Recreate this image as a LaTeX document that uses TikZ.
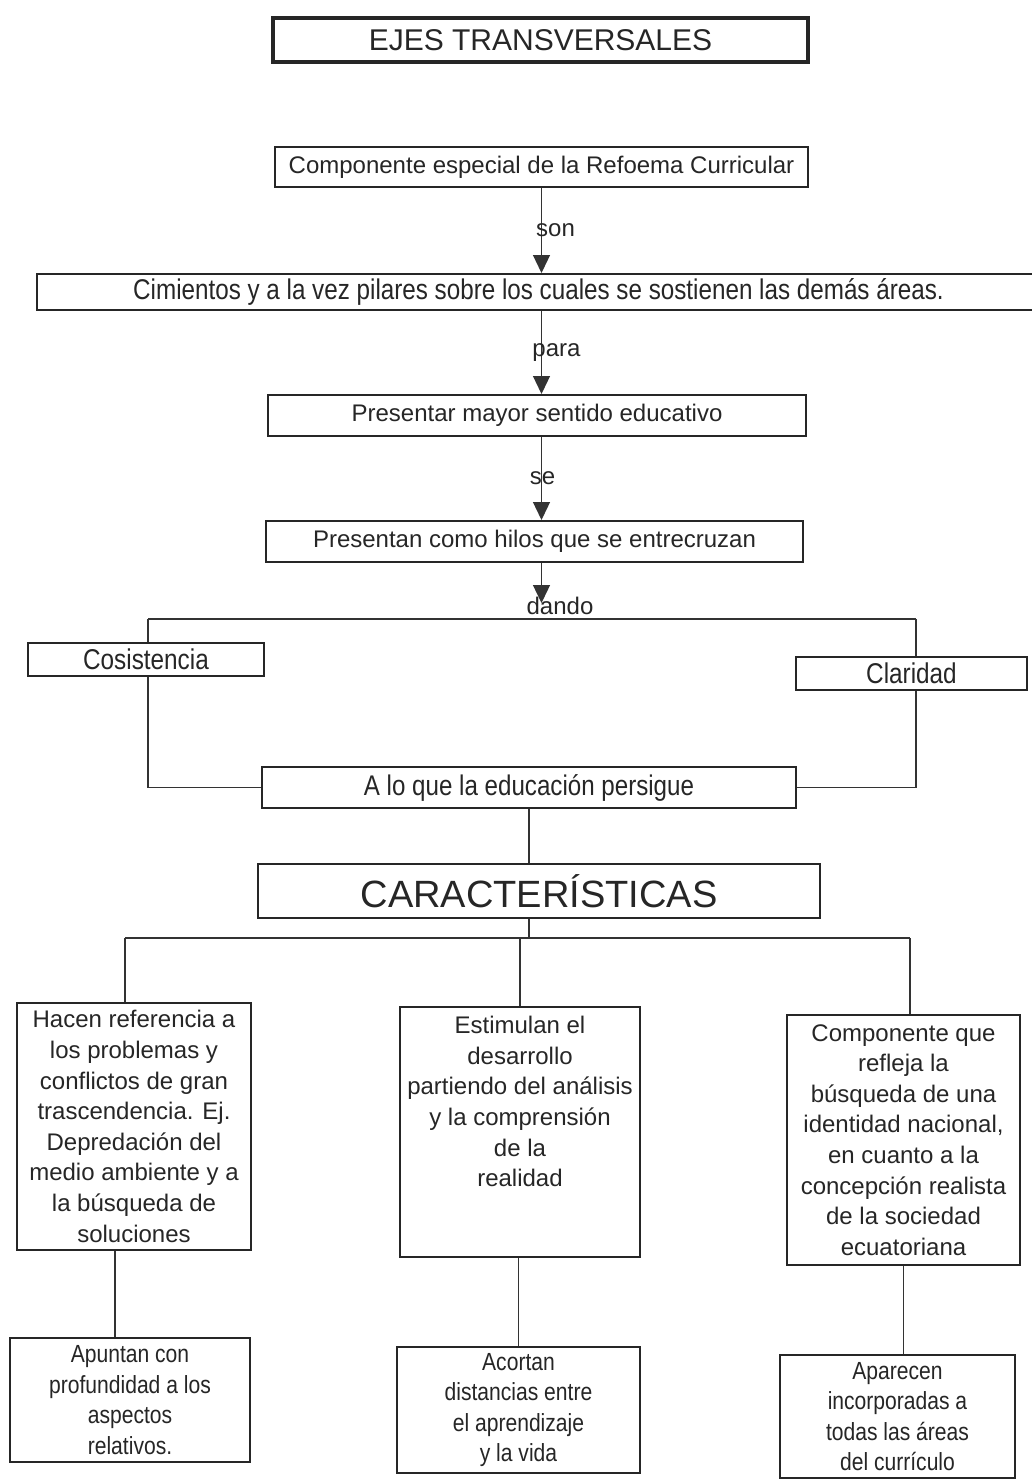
\documentclass[tikz,border=0pt]{standalone}
\usepackage{fontspec}
\setmainfont{Liberation Sans}
\newfontfamily\narrowfont[FakeStretch=0.85]{Liberation Sans}
\usetikzlibrary{arrows.meta,backgrounds}
\newcommand\fsz[2]{\fontsize{#1}{#2}\selectfont}
\tikzset{
 box/.style={draw=black!85, fill=white, line width=2pt, inner sep=0pt, text=black!85, font=\fsz{24}{30.6}, align=center},
 narrowbox/.style={box, font=\narrowfont\fsz{28.6}{30}},
 lowbox/.style={box, font=\narrowfont\fsz{24.8}{30.5}},
 conn/.style={draw=black!80, line width=1.3pt},
 arr/.style={conn, -{Triangle[width=17pt,length=18pt]}},
 lbl/.style={inner sep=0pt, text=black!85, font=\fsz{24}{28}},
}
\begin{document}
\begin{tikzpicture}[x=1pt,y=-1pt]
\useasboundingbox (0,0) rectangle (1032,1479);
% top chain
\node[box, line width=3.5pt, minimum width=535, minimum height=44, font=\fsz{30}{36}] (title) at (540.5,40) {EJES TRANSVERSALES};
\node[box, minimum width=533, minimum height=40] (comp) at (541.5,167) {Componente especial de la Refoema Curricular};
\node[narrowbox, font=\narrowfont\fsz{28.5}{30}, minimum width=1003, minimum height=36] (cim) at (538.5,292) {Cimientos y a la vez pilares sobre los cuales se sostienen las demás áreas.};
\node[box, minimum width=538, minimum height=41] (pres) at (537,415.5) {Presentar mayor sentido educativo};
\node[box, minimum width=537, minimum height=41] (hilos) at (534.5,541.5) {Presentan como hilos que se entrecruzan};
% loop
\node[narrowbox, minimum width=236, minimum height=33] (cos) at (146,659) {Cosistencia};
\node[narrowbox, minimum width=231, minimum height=33] (clar) at (911.5,673.5) {Claridad};
\node[narrowbox, font=\narrowfont\fsz{28.4}{30}, minimum width=534, minimum height=41] (lo) at (529,787.5) {A lo que la educación persigue};
% characteristics
\node[box, minimum width=562, minimum height=54, font=\fsz{38}{44}] (car) at (539,891) {CARACTERÍSTICAS};
\node[box, minimum width=234, minimum height=247] (c1) at (134,1126.5) {Hacen referencia a\\los problemas y\\conflictos de gran\\trascendencia. Ej.\\Depredación del\\medio ambiente y a\\la búsqueda de\\soluciones};
\node[box, minimum width=240, minimum height=250] (c2) at (520,1132) {Estimulan el\\desarrollo\\partiendo del análisis\\y la comprensión\\de la\\realidad\\\mbox{}\\\mbox{}};
\node[box, minimum width=233, minimum height=250] (c3) at (903.5,1140) {Componente que\\refleja la\\búsqueda de una\\identidad nacional,\\en cuanto a la\\concepción realista\\de la sociedad\\ecuatoriana};
\node[lowbox, minimum width=240, minimum height=124] (d1) at (130,1400) {Apuntan con\\profundidad a los\\aspectos\\relativos.};
\node[lowbox, minimum width=243, minimum height=126] (d2) at (518.5,1410) {Acortan\\distancias entre\\el aprendizaje\\y la vida};
\node[lowbox, minimum width=235, minimum height=123] (d3) at (897.5,1416.5) {Aparecen\\incorporadas a\\todas las áreas\\del currículo};
% free points
\coordinate (dtip) at (541.5,603);
\coordinate (bl) at (148,619);
\coordinate (br) at (916,619);
\coordinate (hl) at (125,938);
\coordinate (hr) at (910,938);
\begin{pgfonlayer}{background}
\fill[white] (0,0) rectangle (1032,1479);
\draw[arr] (comp.south) -- node[lbl, xshift=14pt]{son} (comp.south |- cim.north);
\draw[arr] (cim.south -| comp.south) -- node[lbl, xshift=15pt]{para} (comp.south |- pres.north);
\draw[arr] (pres.south -| comp.south) -- node[lbl, xshift=1pt]{se} (comp.south |- hilos.north);
\draw[arr] (hilos.south -| comp.south) -- (dtip);
\node[lbl] (dando) at (560,606) {dando};
\draw[conn] (bl) -- (br);
\draw[conn] (bl) |- (lo.west);
\draw[conn] (br) |- (lo.east);
\draw[conn] (lo.south) -- (lo.south |- car.north);
\draw[conn] (lo.south |- car.south) -- (lo.south |- hl);
\draw[conn] (hl) -- (hr);
\draw[conn] (hl) -- (hl |- c1.north);
\draw[conn] (c2.north |- hl) -- (c2.north);
\draw[conn] (hr) -- (hr |- c3.north);
\draw[conn] ([xshift=-19pt]c1.south) -- ([xshift=-19pt]c1.south |- d1.north);
\draw[conn] (d2.north |- c2.south) -- (d2.north);
\draw[conn] (c3.south) -- (c3.south |- d3.north);
\end{pgfonlayer}
\end{tikzpicture}
\end{document}
